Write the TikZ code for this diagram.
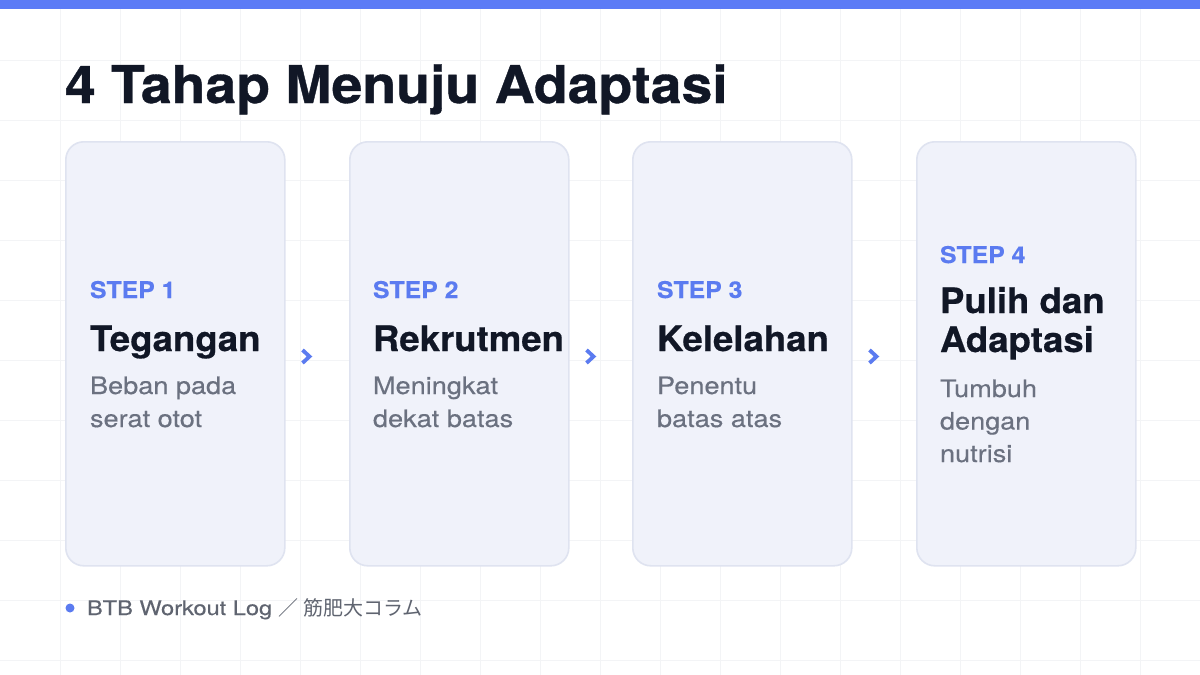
\documentclass[tikz,border=0pt]{standalone}
\usepackage{fontspec}
\setmainfont{TeX Gyre Heros}
\newfontfamily\cjk{Noto Sans CJK JP}
\newfontfamily\fTitle[FakeStretch=1.065,FakeBold=0.7]{texgyreheros-bold.otf}
\newfontfamily\fStep[FakeStretch=1.08,FakeBold=0.4]{texgyreheros-bold.otf}
\newfontfamily\fCard[FakeStretch=1.045,FakeBold=0.5]{texgyreheros-bold.otf}
\newfontfamily\fDesc[FakeStretch=1.13,FakeBold=0.35]{texgyreheros-regular.otf}
\newfontfamily\fFoot[FakeStretch=1.18,FakeBold=0.3]{texgyreheros-regular.otf}
\definecolor{topblue}{HTML}{5B7BF6}
\definecolor{stepblue}{HTML}{5B7BF0}
\definecolor{cardfill}{HTML}{F0F2FA}
\definecolor{cardline}{HTML}{DFE3F0}
\definecolor{gridline}{HTML}{F3F4F6}
\definecolor{titleink}{HTML}{111726}
\definecolor{descgray}{HTML}{6B7180}
\definecolor{footgray}{HTML}{5F6470}
\begin{document}
\begin{tikzpicture}[x=1pt,y=-1pt,
  card/.style={draw=cardline, line width=1.6pt, fill=cardfill, rounded corners=18pt,
    minimum width=219pt, minimum height=424pt, anchor=north west, inner sep=0pt},
  txt/.style={anchor=base west, inner sep=0pt, outer sep=0pt},
  steplbl/.style={txt, text=stepblue, font=\fontsize{23}{23}\fStep},
  cardttl/.style={txt, text=titleink, font=\fontsize{35}{35}\fCard},
  desc/.style={txt, text=descgray, font=\fontsize{24}{24}\fDesc},
  chev/.style={draw=stepblue, line width=3.8pt, line join=miter, line cap=butt},
  gridstyle/.style={draw=gridline, line width=0.8pt}
]
\useasboundingbox (0,0) rectangle (1200,675);
\fill[white] (0,0) rectangle (1200,675);
\foreach \x in {60,120,...,1140} \draw[gridstyle] (\x,0) -- (\x,675);
\foreach \y in {60,120,...,660} \draw[gridstyle] (0,\y) -- (1200,\y);
\fill[topblue] (0,0) rectangle (1200,9);

\node[txt, text=titleink, font=\fontsize{52}{52}\fTitle] (title) at (65,103) {4 Tahap Menuju Adaptasi};

% cards
\node[card] (c1) at (65,141) {};
\node[card] (c2) at (349,141) {};
\node[card] (c3) at (632,141) {};
\node[card] (c4) at (916,141) {};

% card 1
\node[steplbl] (s1) at (90,298) {STEP 1};
\node[cardttl] (t1) at (90,351) {Tegangan};
\node[desc] (d1a) at (90,394) {Beban pada};
\node[desc] (d1b) at (90,427) {serat otot};
% card 2
\node[steplbl] (s2) at (373,298) {STEP 2};
\node[cardttl] (t2) at (373,351) {Rekrutmen};
\node[desc] (d2a) at (373,394) {Meningkat};
\node[desc] (d2b) at (373,427) {dekat batas};
% card 3
\node[steplbl] (s3) at (657,298) {STEP 3};
\node[cardttl] (t3) at (657,351) {Kelelahan};
\node[desc] (d3a) at (657,394) {Penentu};
\node[desc] (d3b) at (657,427) {batas atas};
% card 4
\node[steplbl] (s4) at (940,263) {STEP 4};
\node[cardttl] (t4a) at (940,313) {Pulih dan};
\node[cardttl] (t4b) at (940,352) {Adaptasi};
\node[desc] (d4a) at (940,397) {Tumbuh};
\node[desc] (d4b) at (940,429.5) {dengan};
\node[desc] (d4c) at (940,462) {nutrisi};

% chevrons
\draw[chev] (302.5,350) -- (309.5,356.5) -- (302.5,363);
\draw[chev] (586.5,350) -- (593.5,356.5) -- (586.5,363);
\draw[chev] (869.5,350) -- (876.5,356.5) -- (869.5,363);

% footer
\fill[stepblue] (70,608) circle (4.5);
\node[txt, text=footgray, font=\fontsize{20}{20}\fFoot] (foot) at (87,615) {BTB Workout Log {\cjk ／ 筋肥大コラム}};
\end{tikzpicture}
\end{document}
